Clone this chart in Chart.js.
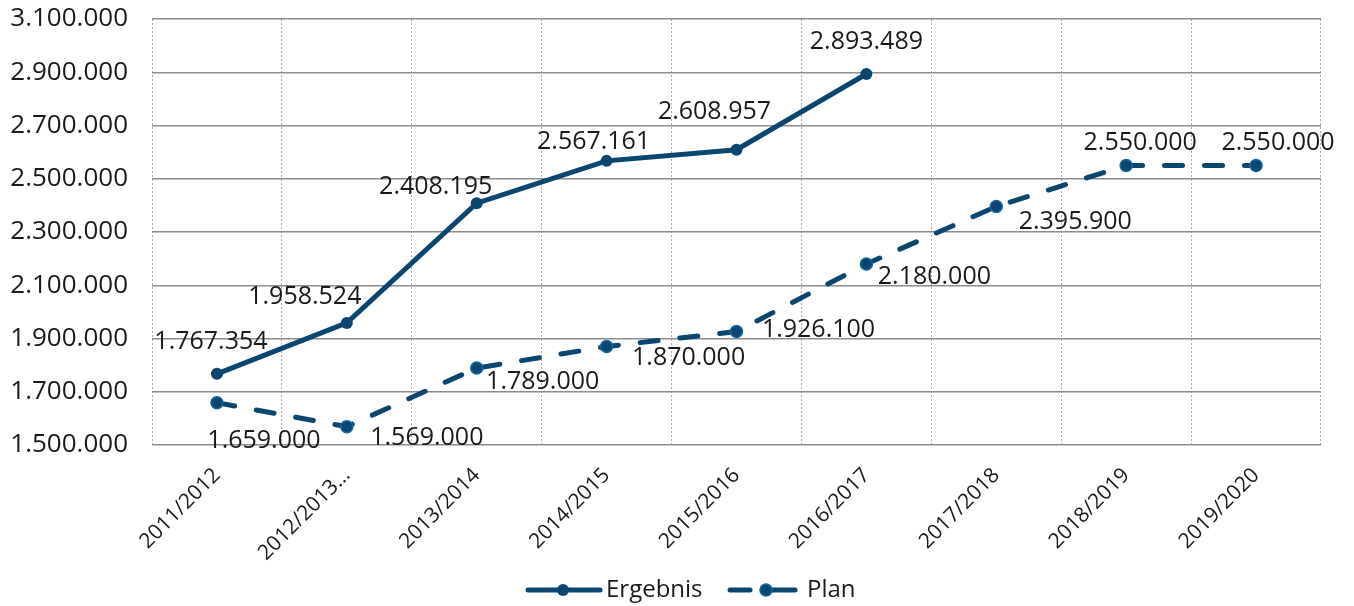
<!DOCTYPE html>
<html>
<head>
<meta charset="utf-8">
<script src="https://cdn.jsdelivr.net/npm/chart.js@4"></script>
<style>
  html, body { margin: 0; padding: 0; background: #fff; }
  #wrap { width: 1354px; height: 606px; position: relative; }
</style>
</head>
<body>
<div id="wrap"><canvas id="myChart"></canvas></div>
<script>
// categories
let labels = ["2011/2012", "2012/2013…", "2013/2014", "2014/2015", "2015/2016",
              "2016/2017", "2017/2018", "2018/2019", "2019/2020"];
// series
let ergebnis = [1767354, 1958524, 2408195, 2567161, 2608957, 2893489, null, null, null];
let plan = [1659000, 1569000, 1789000, 1870000, 1926100, 2180000, 2395900, 2550000, 2550000];
// axis
let yMin = 1500000, yMax = 3100000, yStep = 200000;

// where each value label sits relative to its point (dx, dy)
let ergebnisLabelOffset = [[-6, -32], [-42, -26], [-41, -16], [-13, -19], [-22, -38], [0, -32]];
let planLabelOffset = [[47, 38], [80, 11], [66, 14], [82, 11], [82, -2], [68, 13], [79, 15], [14, -23], [22, -23]];

let navy = "#0a4670";
let fontFam = "'Open Sans', 'Noto Sans', sans-serif";

function fmt(v) {
  return String(Math.round(v)).replace(/\B(?=(\d{3})+(?!\d))/g, ".");
}

// value labels next to the points
let valueLabels = {
  id: "valueLabels",
  afterDatasetsDraw(chart) {
    let ctx = chart.ctx;
    ctx.save();
    ctx.font = "25px " + fontFam;
    ctx.fillStyle = "#1a1a1a";
    ctx.textAlign = "center";
    ctx.textBaseline = "middle";
    let offs = [ergebnisLabelOffset, planLabelOffset];
    chart.data.datasets.forEach(function (ds, i) {
      let meta = chart.getDatasetMeta(i);
      meta.data.forEach(function (pt, j) {
        let v = ds.data[j];
        if (v == null) return;
        let o = offs[i][j] || [0, -25];
        ctx.fillText(fmt(v), pt.x + o[0], pt.y + o[1]);
      });
    });
    ctx.restore();
  }
};

// legend: line sample with a dot in the middle
let lineLegend = {
  id: "lineLegend",
  afterDraw(chart) {
    let ctx = chart.ctx;
    let y = 590;
    let items = [
      { text: "Ergebnis", x0: 528, x1: 600, dot: 563, tx: 606 },
      { text: "Plan", x0: 730, x1: 795, dot: 766, tx: 807 }
    ];
    ctx.save();
    items.forEach(function (it, k) {
      ctx.strokeStyle = navy;
      ctx.lineWidth = 5;
      ctx.lineCap = "round";
      ctx.beginPath();
      if (k === 0) {
        ctx.moveTo(it.x0, y);
        ctx.lineTo(it.x1, y);
      } else {
        ctx.moveTo(it.x0, y); ctx.lineTo(it.x0 + 20, y);
        ctx.moveTo(it.dot + 4, y); ctx.lineTo(it.x1, y);
      }
      ctx.stroke();
      ctx.beginPath();
      ctx.arc(it.dot, y, 6, 0, Math.PI * 2);
      ctx.fillStyle = navy;
      ctx.fill();
      if (k === 1) {
        ctx.lineWidth = 1.5;
        ctx.strokeStyle = "#1467a0";
        ctx.stroke();
      }
      ctx.fillStyle = "#1a1a1a";
      ctx.font = "24px " + fontFam;
      ctx.textAlign = "left";
      ctx.textBaseline = "middle";
      ctx.fillText(it.text, it.tx, y);
    });
    ctx.restore();
  }
};

let ctx1 = document.getElementById("myChart").getContext("2d");
let chart1 = new Chart(ctx1, {
  type: "line",
  data: {
    labels: labels,
    datasets: [
      {
        label: "Ergebnis",
        data: ergebnis,
        borderColor: navy,
        backgroundColor: navy,
        borderWidth: 5,
        pointRadius: 6,
        pointBorderWidth: 0,
        pointBackgroundColor: navy,
        tension: 0,
        spanGaps: false
      },
      {
        label: "Plan",
        data: plan,
        borderColor: navy,
        backgroundColor: navy,
        borderWidth: 5,
        borderDash: [18, 22],
        borderCapStyle: "round",
        pointRadius: 6,
        pointBorderWidth: 1.5,
        pointBorderColor: "#1467a0",
        pointBackgroundColor: navy,
        tension: 0
      }
    ]
  },
  options: {
    responsive: true,
    maintainAspectRatio: false,
    animation: false,
    layout: { padding: { top: 19, right: 33, bottom: 0, left: 0 } },
    plugins: {
      legend: { display: false },
      tooltip: { enabled: false }
    },
    scales: {
      x: {
        offset: true,
        grid: { offset: true, color: "#a8a8a8", lineWidth: 1, drawTicks: false },
        border: { display: false, dash: [2, 2] },
        ticks: {
          color: "#1a1a1a",
          font: { family: fontFam, size: 21 },
          maxRotation: 45,
          minRotation: 45,
          padding: 18,
          autoSkip: false
        },
        afterFit: function (s) {
          s.height = 161;
          s.paddingLeft = 0; s.paddingRight = 0; s.paddingTop = 0; s.paddingBottom = 0;
        }
      },
      y: {
        min: yMin,
        max: yMax,
        grid: { color: "#8c8c8c", lineWidth: 1.5, drawTicks: false },
        border: { display: false },
        ticks: {
          stepSize: yStep,
          color: "#1a1a1a",
          font: { family: fontFam, size: 26 },
          padding: 24,
          callback: function (v) { return fmt(v); }
        },
        afterFit: function (s) {
          s.width = 152;
          s.paddingTop = 0; s.paddingBottom = 0;
        }
      }
    }
  },
  plugins: [valueLabels, lineLegend]
});
</script>
</body>
</html>
